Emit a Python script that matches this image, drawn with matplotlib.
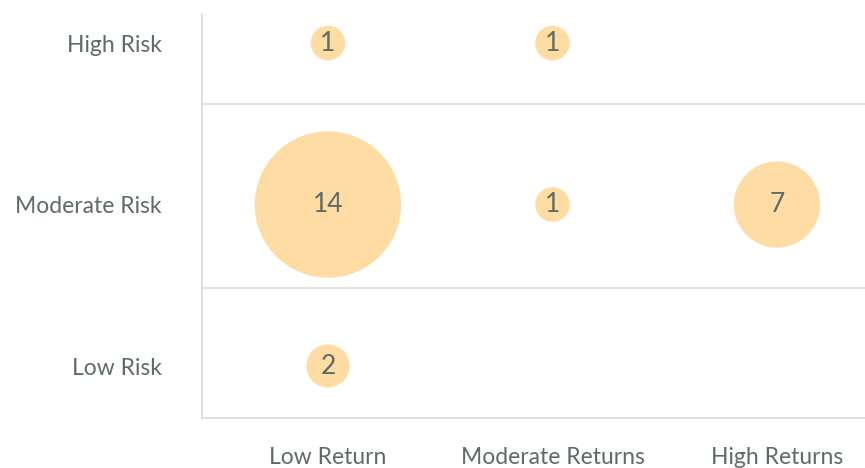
import numpy as np
import matplotlib.pyplot as plt

risk_levels = ['Low Risk', 'Moderate Risk', 'High Risk']
return_levels = ['Low Return', 'Moderate Returns', 'High Returns']

# one entry per bubble
bubble_return = ['Low Return', 'Moderate Returns', 'Low Return', 'Moderate Returns', 'High Returns', 'Low Return']
bubble_risk = ['High Risk', 'High Risk', 'Moderate Risk', 'Moderate Risk', 'Moderate Risk', 'Low Risk']
bubble_count = [1, 1, 14, 1, 7, 2]

text_col = '#5f6b66'
line_col = '#dddddd'
bubble_col = '#ffdca3'

plt.rcParams['font.family'] = ['Lato', 'DejaVu Sans']

fig = plt.figure(figsize=(8.65, 4.68), dpi=100)
ax = fig.add_axes([202 / 865, 1 - 418 / 468, 663 / 865, 404 / 468])

x = [return_levels.index(r) for r in bubble_return]
y = [risk_levels.index(r) for r in bubble_risk]
counts = np.array(bubble_count, dtype=float)

# bubble diameter in pixels -> marker area in points^2
diam_px = 26 + 8.6 * counts
sizes = (diam_px * 72 / fig.dpi) ** 2

ax.scatter(x, y, s=sizes, color=bubble_col, linewidths=0, zorder=3)
for xi, yi, c in zip(x, y, bubble_count):
    ax.text(xi, yi, str(c), ha='center', va='center', fontsize=19,
            color=text_col, zorder=4)

# row separators
for yb in [0.481, 1.62]:
    ax.axhline(yb, color=line_col, lw=1.3, zorder=1)

ax.set_xlim(-0.561, 2.392)
ax.set_ylim(-0.322, 2.18)

ax.set_xticks(range(len(return_levels)))
ax.set_xticklabels(return_levels)
ax.set_yticks(range(len(risk_levels)))
ax.set_yticklabels(risk_levels)
ax.tick_params(axis='both', length=0, labelsize=16.5, labelcolor=text_col)
ax.tick_params(axis='x', pad=21)
ax.tick_params(axis='y', pad=29)

for side in ['top', 'right']:
    ax.spines[side].set_visible(False)
for side in ['left', 'bottom']:
    ax.spines[side].set_color(line_col)
    ax.spines[side].set_linewidth(1.3)

fig.savefig('out.png', dpi=100)
